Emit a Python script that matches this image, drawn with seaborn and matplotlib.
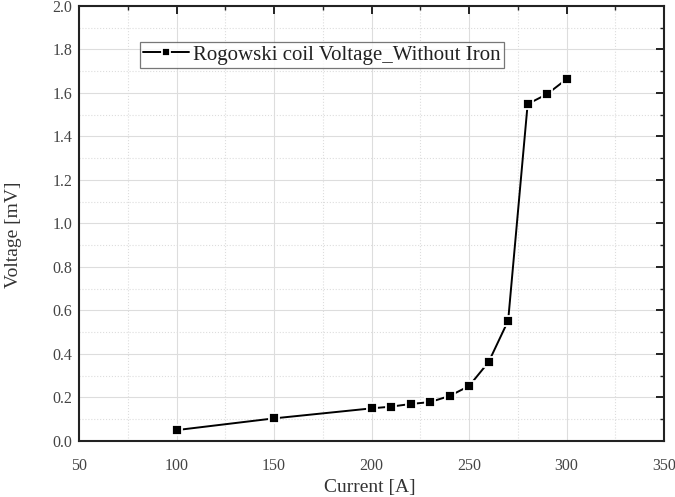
import matplotlib
matplotlib.use("Agg")
import matplotlib.pyplot as plt
from matplotlib.ticker import MultipleLocator, FormatStrFormatter
import pandas as pd
import seaborn as sns

current = [100, 150, 200, 210, 220, 230, 240, 250, 260, 270, 280, 290, 300]
voltage = [0.05, 0.104, 0.150, 0.158, 0.170, 0.179, 0.207, 0.253, 0.363, 0.553, 1.549, 1.595, 1.664]
series_name = "Rogowski coil Voltage_Without Iron"

df = pd.DataFrame({"Current [A]": current, "Voltage [mV]": voltage})

sns.set_style("white")
plt.rcParams['font.family'] = ['Liberation Serif', 'DejaVu Serif']

fig = plt.figure(figsize=(6.75, 4.97), dpi=100)
ax = fig.add_axes([0.117, 0.1127, 0.867, 0.8753])

sns.lineplot(data=df, x="Current [A]", y="Voltage [mV]", ax=ax, color="black",
             marker="s", markersize=7.5, linewidth=1.4, markeredgecolor="white",
             markeredgewidth=1.3, label=series_name)

ax.set_xlim(50, 350)
ax.set_ylim(0, 2.0)
ax.xaxis.set_major_locator(MultipleLocator(50))
ax.xaxis.set_minor_locator(MultipleLocator(25))
ax.yaxis.set_major_locator(MultipleLocator(0.2))
ax.yaxis.set_minor_locator(MultipleLocator(0.1))
ax.yaxis.set_major_formatter(FormatStrFormatter('%.1f'))

# light solid major grid, dotted minor grid
ax.grid(which="major", color="#dddddd", linewidth=0.8, linestyle="-")
ax.grid(which="minor", color="#dddddd", linewidth=0.8, linestyle=":")
ax.set_axisbelow(True)

ax.tick_params(which="both", direction="in", top=True, right=True, colors="#222222",
               labelcolor="#444444", labelsize=11.5)
ax.tick_params(which="major", length=6, width=1.4)
ax.tick_params(which="minor", length=3, width=1.0)
ax.tick_params(axis="x", which="major", pad=12)
ax.tick_params(axis="y", which="major", pad=5)
for s in ax.spines.values():
    s.set_linewidth(1.5)
    s.set_color("#222222")

ax.set_xlabel("Current [A]", fontsize=14, color="#333333")
ax.set_ylabel("Voltage [mV]", fontsize=14, color="#333333")
ax.xaxis.set_label_coords(0.497, -0.087)
ax.yaxis.set_label_coords(-0.097, 0.474)

leg = ax.legend(loc="upper left", bbox_to_anchor=(0.104, 0.917), fontsize=15,
                frameon=True, fancybox=False, edgecolor="#555555",
                handlelength=2.2, handletextpad=0.2, borderpad=0.15,
                borderaxespad=0, markerscale=0.75)
leg.get_frame().set_linewidth(0.9)
for t in leg.get_texts():
    t.set_color("#222222")

fig.savefig("out.png", dpi=100)
